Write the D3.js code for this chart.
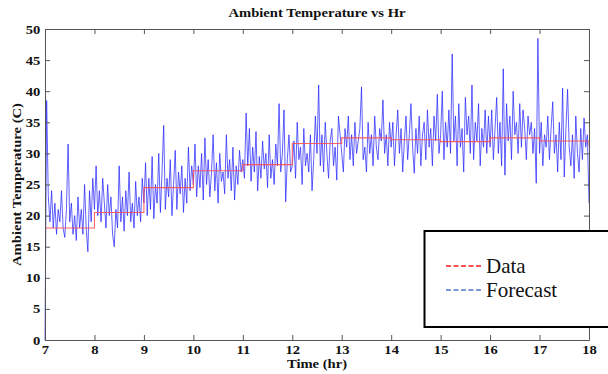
<!DOCTYPE html>
<html><head><meta charset="utf-8">
<script src="https://cdn.jsdelivr.net/npm/d3@7"></script>
<style>
html,body{margin:0;padding:0;background:#fff;}
svg{display:block;}
</style></head>
<body>
<svg id="chart" width="608" height="374"></svg>
<script>
// ---- data ----
const hourStarts = [7, 8, 9, 10, 11, 12, 13, 14, 15, 16, 17, 18];
const dataTemp   = [18.0, 20.5, 24.5, 27.2, 28.2, 31.6, 32.5, 32.2, 31.9, 32.5, 32.0, 31.2];
const samplesPerHour = 30;
const forecastTemp = [
  0, 38.5, 23, 19, 24, 18, 22, 17, 21, 19, 24, 18, 16.5, 21, 31.5, 19, 22, 17, 20, 16, 23, 18, 21, 17, 25, 18, 14.2, 24, 19, 26,
  21, 28, 20, 24, 19, 26, 22, 18, 25, 20, 23, 17, 15, 21, 18, 28, 19, 23, 17.5, 24, 20, 27, 19, 22, 18, 25.5, 20, 23, 19, 26,
  22, 28.5, 20, 26, 21, 29.5, 19.5, 25, 22, 30, 20.5, 27, 34.5, 21, 26, 23, 29, 20, 25, 30.5, 21, 27, 23.5, 28, 20.5, 26, 22, 31, 24, 28,
  25, 31.5, 23, 28, 24.5, 30, 22.5, 32.5, 25, 29, 23, 27, 33, 24, 28.5, 22, 30, 25.5, 27, 23.5, 33, 26, 29, 24, 31, 22.5, 28, 25, 30.5, 27,
  29, 26, 36.5, 28, 34, 25.5, 31, 27, 33.5, 24, 29.5, 26, 32, 27.5, 30, 24.5, 33, 26, 29, 25, 31.5, 28, 38, 27, 30, 37, 22.2, 29, 33, 27,
  28, 32, 26, 35, 29, 31, 25, 34, 28, 30, 27, 33, 24, 29, 36, 30, 41, 28, 33, 27, 35, 30, 26, 32, 34, 28, 31, 25.7, 36, 33,
  30, 27, 34, 31, 36, 29, 33, 28, 35, 30, 32, 34, 40.7, 29, 31, 27, 35, 30, 33, 28, 36, 31, 29, 34, 32, 38.6, 30, 33, 28, 35,
  31, 35, 28, 33, 37, 30, 34, 27, 32, 36, 29, 33, 38, 31, 26.8, 34, 30, 36, 28, 33, 35, 29, 37, 31, 34, 28, 36, 32, 39.5, 30,
  33, 40, 29, 35, 31, 37, 30, 46, 32, 36, 28, 38, 31, 34, 27, 39, 33, 36, 30, 41, 29, 35, 32, 38, 28, 34, 31, 37, 30, 36,
  31, 37, 29, 34, 39, 30, 35, 28, 43.6, 26.5, 38, 32, 36, 29, 40, 33, 35, 30, 38, 31, 37, 34, 29, 36, 33, 35, 30, 34, 25.2, 48.5,
  30, 35, 28, 33, 31, 36, 29, 34, 38.3, 30, 33, 27, 35, 29, 40.5, 26.2, 34, 40.3, 31, 28, 33, 26, 36, 30, 27, 34, 29, 35.7, 31, 33,
  22
];
const xTicks = [7, 8, 9, 10, 11, 12, 13, 14, 15, 16, 17, 18];
const yTicks = [0, 5, 10, 15, 20, 25, 30, 35, 40, 45, 50];
const titleText = "Ambient Temperature vs Hr";
const xLabel = "Time (hr)";
const yLabel = "Ambient Temperature (C)";
const legendLabels = ["Data", "Forecast"];

// ---- layout ----
const svg = d3.select("#chart");
const L = 45, R = 589, T = 29, B = 340;
const x = d3.scaleLinear().domain([7, 18]).range([L, R]);
const y = d3.scaleLinear().domain([0, 50]).range([B, T]);
const serif = "'Liberation Serif', 'Times New Roman', serif";
const stretch = 1.17;

// lines
const forecastPts = forecastTemp.map((v, i) => [7 + i / samplesPerHour, v]);
const fLine = d3.line().x(d => x(d[0])).y(d => y(d[1]));
svg.append("path").datum(forecastPts)
  .attr("d", fLine).attr("fill", "none")
  .attr("stroke", "#2424ff").attr("stroke-width", 1).attr("stroke-opacity", 0.72)
  .attr("stroke-linejoin", "round");

const dataPts = hourStarts.map((h, i) => [h, dataTemp[i]]);
const dLine = d3.line().x(d => x(d[0])).y(d => y(d[1])).curve(d3.curveStepAfter);
svg.append("path").datum(dataPts)
  .attr("d", dLine).attr("fill", "none")
  .attr("stroke", "#ff4a4a").attr("stroke-width", 1.1).attr("stroke-opacity", 0.85);

// axes
const axisColor = "#555";
function styleAxis(g) {
  g.select(".domain").attr("stroke", axisColor).attr("stroke-width", 1);
  g.selectAll(".tick line").attr("stroke", axisColor);
  g.selectAll("text").attr("font-family", serif).attr("font-weight", "bold")
    .attr("font-size", 12.5).attr("fill", "#111");
}
const gx = svg.append("g").attr("transform", `translate(0,${B})`)
  .call(d3.axisBottom(x).tickValues(xTicks).tickFormat(d3.format("d")).tickSizeInner(-5).tickSizeOuter(0).tickPadding(5));
styleAxis(gx);
gx.selectAll("text").attr("transform", `scale(${stretch},1)`);

const gxt = svg.append("g").attr("transform", `translate(0,${T})`)
  .call(d3.axisTop(x).tickValues(xTicks).tickFormat("").tickSizeInner(-5).tickSizeOuter(0));
styleAxis(gxt);

const gy = svg.append("g").attr("transform", `translate(${L},0)`)
  .call(d3.axisLeft(y).tickValues(yTicks).tickFormat(d3.format("d")).tickSizeInner(-5).tickSizeOuter(0).tickPadding(4));
styleAxis(gy);
gy.selectAll("text").attr("transform", `scale(${stretch},1)`);

const gyr = svg.append("g").attr("transform", `translate(${R},0)`)
  .call(d3.axisRight(y).tickValues(yTicks).tickFormat("").tickSizeInner(-5).tickSizeOuter(0));
styleAxis(gyr);

// titles
svg.append("text").text(titleText)
  .attr("transform", `translate(${(L + R) / 2},17) scale(${stretch},1)`)
  .attr("text-anchor", "middle").attr("font-family", serif).attr("font-weight", "bold")
  .attr("font-size", 12.5).attr("fill", "#111");
svg.append("text").text(xLabel)
  .attr("transform", `translate(${(L + R) / 2},368) scale(${stretch},1)`)
  .attr("text-anchor", "middle").attr("font-family", serif).attr("font-weight", "bold")
  .attr("font-size", 12.5).attr("fill", "#111");
svg.append("text").text(yLabel)
  .attr("transform", `translate(21,${(T + B) / 2}) rotate(-90) scale(${stretch},1)`)
  .attr("text-anchor", "middle").attr("font-family", serif).attr("font-weight", "bold")
  .attr("font-size", 12.5).attr("fill", "#111");

// legend
const lg = svg.append("g");
lg.append("rect").attr("x", 424.5).attr("y", 231).attr("width", 200).attr("height", 96)
  .attr("fill", "#fff").attr("stroke", "#000").attr("stroke-width", 2);
const legendColors = ["#ff1a1a", "#4a78d8"];
legendLabels.forEach((lab, i) => {
  const yy = 266 + i * 24;
  lg.append("line").attr("x1", 446).attr("x2", 482).attr("y1", yy).attr("y2", yy)
    .attr("stroke", legendColors[i]).attr("stroke-width", 1.5).attr("stroke-dasharray", "5,2.5");
  lg.append("text").text(lab).attr("x", 486).attr("y", yy + 7)
    .attr("font-family", serif).attr("font-size", 21).attr("fill", "#111");
});
</script>
</body></html>
